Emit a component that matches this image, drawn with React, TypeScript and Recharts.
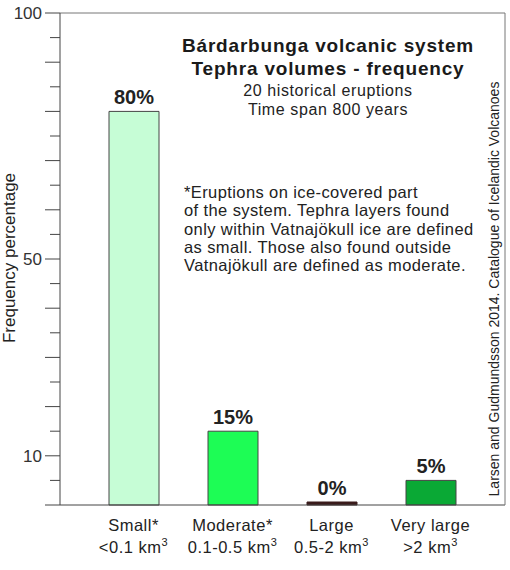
import { BarChart, Bar, XAxis, YAxis, Cell, LabelList } from "recharts";

const categories = ["Small*", "Moderate*", "Large", "Very large"];
const ranges = ["<0.1 km", "0.1-0.5 km", "0.5-2 km", ">2 km"];
const frequency = [80, 15, 0, 5];
const barColors = ["#c6fdd6", "#1dfd55", "#3a1c1c", "#0aa935"];
const yTicks = [0, 5, 10, 15, 20, 25, 30, 35, 40, 45, 50, 55, 60, 65, 70, 75, 80, 85, 90, 95, 100];
const yLabelled = [10, 50, 100];

const titleLines = ["Bárdarbunga volcanic system", "Tephra volumes - frequency"];
const subLines = ["20 historical eruptions", "Time span 800 years"];
const noteLines = [
  "*Eruptions on ice-covered part",
  "of the system. Tephra layers found",
  "only within Vatnajökull ice are defined",
  "as small.  Those also found outside",
  "Vatnajökull are defined as moderate.",
];
const sourceText = "Larsen and Gudmundsson 2014.  Catalogue of Icelandic Volcanoes";

const data = categories.map((c, i) => ({ cat: c, range: ranges[i], value: frequency[i] }));

const FONT = "'Liberation Sans', Arial, sans-serif";

function YTick(props: any) {
  const { x, y, payload } = props;
  const v = payload.value as number;
  const major = v % 10 === 0;
  return (
    <g>
      <line x1={x - (major ? 15 : 10)} x2={x} y1={y} y2={y} stroke="#444" strokeWidth={1} />
      {yLabelled.includes(v) && (
        <text x={x - 18} y={y + 6} textAnchor="end" fontSize={17} fill="#333" fontFamily={FONT}>
          {v}
        </text>
      )}
    </g>
  );
}

function XTick(props: any) {
  const { x, y, payload } = props;
  const row = data[payload.index];
  return (
    <g fontFamily={FONT} fontSize={16.5} fill="#222" letterSpacing={0.5}>
      <text x={x} y={y + 26} textAnchor="middle">
        {row.cat}
      </text>
      <text x={x} y={y + 48} textAnchor="middle">
        {row.range}
        <tspan dy={-7} fontSize={11}>3</tspan>
      </text>
    </g>
  );
}

export default function App() {
  return (
    <div style={{ position: "absolute", left: 0, top: 0, width: 510, height: 570, background: "#fff" }}>
      <BarChart
        width={510}
        height={570}
        data={data}
        margin={{ top: 12, right: 0, bottom: 0, left: 0 }}
      >
        <XAxis
          dataKey="cat"
          height={65}
          tick={<XTick />}
          tickLine={false}
          tickSize={0}
          tickMargin={0}
          padding={{ left: 24, right: 25 }}
          axisLine={{ stroke: "#444" }}
          interval={0}
        />
        <XAxis xAxisId="top" orientation="top" dataKey="cat" tick={false} tickLine={false} height={1} axisLine={{ stroke: "#777" }} />
        <YAxis
          domain={[0, 100]}
          ticks={yTicks}
          interval={0}
          width={60}
          tick={<YTick />}
          tickLine={false}
          tickSize={0}
          tickMargin={0}
          axisLine={{ stroke: "#444" }}
        />
        <YAxis yAxisId="right" orientation="right" width={5} tick={false} tickLine={false} axisLine={{ stroke: "#777" }} />
        <Bar dataKey="value" barSize={50} minPointSize={3} stroke="#444" strokeWidth={1} isAnimationActive={false}>
          {data.map((_, i) => (
            <Cell key={i} fill={barColors[i]} stroke={i === 2 ? barColors[i] : "#444"} />
          ))}
          <LabelList
            dataKey="value"
            position="top"
            offset={7}
            formatter={(v: any) => `${v}%`}
            style={{ fontSize: 20, fontWeight: "bold", fill: "#222", fontFamily: FONT }}
          />
        </Bar>
      </BarChart>
      <svg
        width={510}
        height={570}
        style={{ position: "absolute", left: 0, top: 0, pointerEvents: "none", whiteSpace: "pre" }}
        fontFamily={FONT}
      >
        {titleLines.map((t, i) => (
          <text key={t} x={328} y={52 + i * 23} textAnchor="middle" fontSize={19} letterSpacing={0.8} fontWeight="bold" fill="#1a1a1a">
            {t}
          </text>
        ))}
        {subLines.map((t, i) => (
          <text key={t} x={328} y={96 + i * 19} textAnchor="middle" fontSize={16} letterSpacing={0.6} fill="#222">
            {t}
          </text>
        ))}
        {noteLines.map((t, i) => (
          <text key={t} x={184} y={198 + i * 18.3} fontSize={16.5} letterSpacing={0.4} fill="#222">
            {t}
          </text>
        ))}
        <text x={15} y={258} transform="rotate(-90 15 258)" textAnchor="middle" fontSize={17} fill="#222">
          Frequency percentage
        </text>
        <text x={499} y={289} transform="rotate(-90 499 289)" textAnchor="middle" fontSize={14} fill="#222">
          {sourceText}
        </text>
      </svg>
    </div>
  );
}
